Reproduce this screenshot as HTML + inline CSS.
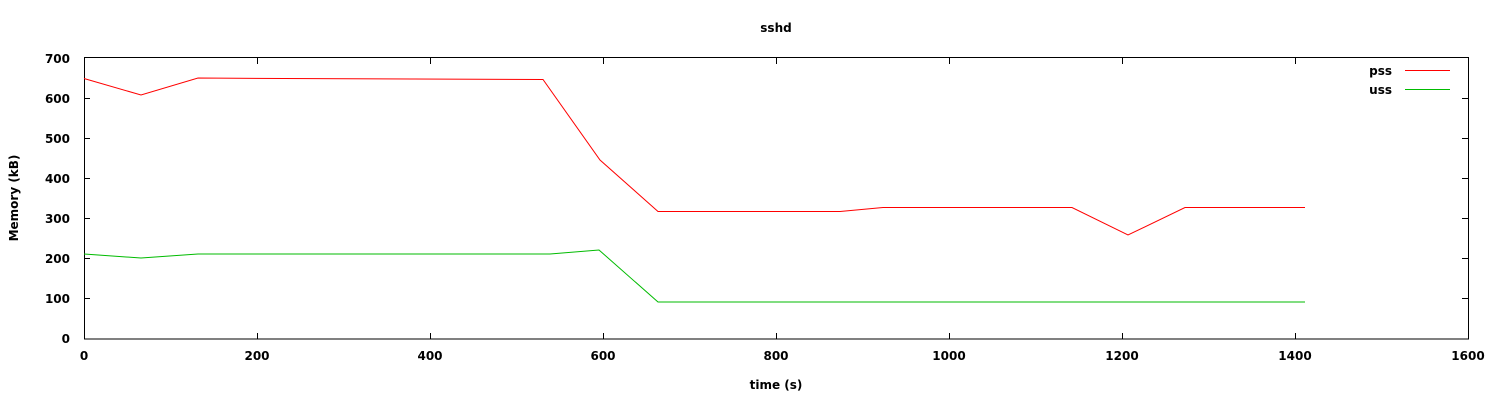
<!DOCTYPE html>
<html><head><style>
body{margin:0;background:#fff}
svg text{font-family:"DejaVu Sans","Liberation Sans",sans-serif;font-size:12px;font-weight:bold;fill:#000}
</style></head><body>
<svg width="1500" height="400" xmlns="http://www.w3.org/2000/svg">
<rect x="84.5" y="57.5" width="1384" height="281.5" fill="none" stroke="#000" stroke-width="1"/>
<g stroke="#000" stroke-width="1">
<path d="M84 298.5h6M84 258.5h6M84 218.5h6M84 178.5h6M84 138.5h6M84 98.5h6M1468 298.5h-6M1468 258.5h-6M1468 218.5h-6M1468 178.5h-6M1468 138.5h-6M1468 98.5h-6"/>
<path d="M257.5 339v-6M430.5 339v-6M603.5 339v-6M776.5 339v-6M949.5 339v-6M1122.5 339v-6M1295.5 339v-6M257.5 58v6M430.5 58v6M603.5 58v6M776.5 58v6M949.5 58v6M1122.5 58v6M1295.5 58v6"/>
</g>
<g text-anchor="end">
<text x="70" y="343">0</text><text x="70" y="303">100</text><text x="70" y="263">200</text><text x="70" y="223">300</text><text x="70" y="183">400</text><text x="70" y="143">500</text><text x="70" y="103">600</text><text x="70" y="63">700</text>
</g>
<g text-anchor="middle">
<text x="84" y="360">0</text><text x="257" y="360">200</text><text x="430" y="360">400</text><text x="603" y="360">600</text><text x="776" y="360">800</text><text x="949" y="360">1000</text><text x="1122" y="360">1200</text><text x="1295" y="360">1400</text><text x="1468" y="360">1600</text>
<text x="776" y="389">time (s)</text>
<text x="776" y="32">sshd</text>
<text transform="translate(18,198) rotate(-90)">Memory (kB)</text>
</g>
<text x="1392" y="75" text-anchor="end">pss</text>
<text x="1392" y="94" text-anchor="end">uss</text>
<path d="M1405 70.5h45" stroke="#f00"/>
<path d="M1405 89.5h45" stroke="#0b0"/>
<polyline fill="none" stroke="#f00" stroke-width="1" points="84,78.5 141,95 198,78 284,78.5 543,79.5 600,160 658,211.5 840,211.5 883,207.5 1072,207.5 1128,235 1185,207.5 1305,207.5"/>
<polyline fill="none" stroke="#0b0" stroke-width="1" points="84,254 141,258 198,254 550,254 599,250 658,302 1305,302"/>
</svg>
</body></html>
